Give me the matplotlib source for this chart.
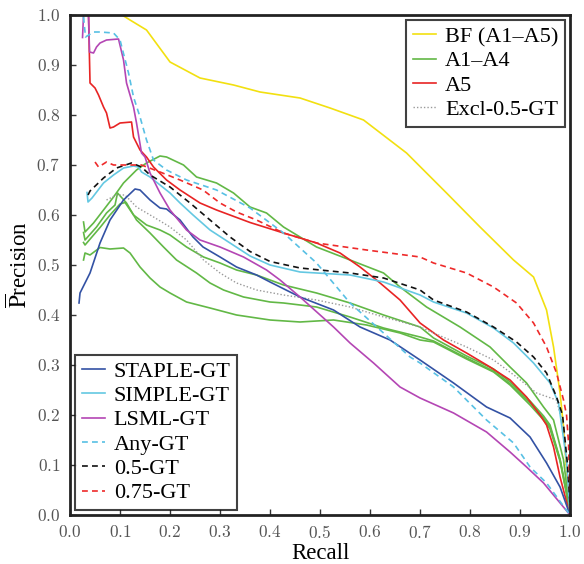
import numpy as np
import matplotlib.pyplot as plt

# precision-recall curves, values
bf_r = [0.02, 0.104, 0.12, 0.153, 0.2, 0.26, 0.327, 0.38, 0.46, 0.52, 0.587, 0.673, 0.753,
        0.82, 0.887, 0.927, 0.953, 0.967, 0.98, 0.987, 0.997, 1.0]
bf_p = [1.0, 1.0, 0.99, 0.97, 0.906, 0.874, 0.86, 0.846, 0.834, 0.814, 0.79, 0.724, 0.644,
        0.576, 0.51, 0.476, 0.41, 0.336, 0.244, 0.176, 0.03, 0.0]

a5_r = [0.037, 0.04, 0.05, 0.057, 0.067, 0.073, 0.08, 0.087, 0.1, 0.123, 0.127, 0.14, 0.153,
        0.167, 0.193, 0.22, 0.26, 0.293, 0.36, 0.427, 0.493, 0.54, 0.58, 0.613, 0.66, 0.7,
        0.747, 0.793, 0.84, 0.88, 0.913, 0.94, 0.953, 0.967, 0.98, 1.0]
a5_p = [1.0, 0.864, 0.854, 0.84, 0.816, 0.804, 0.774, 0.776, 0.784, 0.786, 0.756, 0.73, 0.716,
        0.696, 0.67, 0.65, 0.624, 0.61, 0.585, 0.564, 0.544, 0.524, 0.496, 0.47, 0.43, 0.384,
        0.35, 0.324, 0.296, 0.27, 0.236, 0.2, 0.18, 0.136, 0.076, 0.0]

g1_r = [0.027, 0.03, 0.047, 0.067, 0.087, 0.107, 0.133, 0.153, 0.18, 0.193, 0.227, 0.253,
        0.293, 0.327, 0.36, 0.393, 0.427, 0.46, 0.493, 0.56, 0.627, 0.66, 0.713, 0.78, 0.84,
        0.88, 0.913, 0.947, 0.967, 0.987, 1.0]
g1_p = [0.586, 0.566, 0.584, 0.61, 0.636, 0.664, 0.69, 0.704, 0.718, 0.716, 0.7, 0.676,
        0.664, 0.644, 0.616, 0.604, 0.576, 0.556, 0.536, 0.51, 0.484, 0.456, 0.416, 0.376,
        0.336, 0.296, 0.264, 0.216, 0.19, 0.11, 0.0]

g2_r = [0.027, 0.03, 0.053, 0.073, 0.09, 0.095, 0.113, 0.133, 0.16, 0.187, 0.213, 0.253, 0.28,
        0.307, 0.347, 0.4, 0.427, 0.493, 0.56, 0.627, 0.7, 0.727, 0.793, 0.847, 0.88, 0.92,
        0.947, 0.96, 0.98, 0.993, 1.0]
g2_p = [0.565, 0.55, 0.576, 0.604, 0.62, 0.644, 0.624, 0.59, 0.564, 0.536, 0.51, 0.484, 0.464,
        0.45, 0.436, 0.426, 0.424, 0.416, 0.396, 0.374, 0.356, 0.348, 0.314, 0.288, 0.262,
        0.224, 0.194, 0.176, 0.11, 0.044, 0.0]

g3_r = [0.027, 0.03, 0.06, 0.08, 0.1, 0.11, 0.127, 0.153, 0.18, 0.2, 0.233, 0.267, 0.3,
        0.333, 0.373, 0.427, 0.493, 0.56, 0.627, 0.7, 0.727, 0.793, 0.847, 0.88, 0.92, 0.947,
        0.96, 0.98, 0.993, 1.0]
g3_p = [0.545, 0.54, 0.575, 0.6, 0.622, 0.625, 0.6, 0.58, 0.57, 0.56, 0.536, 0.516, 0.504,
        0.49, 0.48, 0.46, 0.444, 0.424, 0.4, 0.376, 0.354, 0.318, 0.292, 0.266, 0.228, 0.198,
        0.18, 0.112, 0.046, 0.0]

g4_r = [0.027, 0.03, 0.04, 0.06, 0.08, 0.107, 0.12, 0.14, 0.16, 0.18, 0.2, 0.233, 0.28,
        0.333, 0.4, 0.46, 0.527, 0.593, 0.66, 0.7, 0.727, 0.793, 0.847, 0.88, 0.92, 0.947,
        0.96, 0.98, 0.993, 1.0]
g4_p = [0.51, 0.524, 0.52, 0.535, 0.532, 0.534, 0.524, 0.496, 0.474, 0.456, 0.444, 0.426,
        0.414, 0.4, 0.39, 0.386, 0.39, 0.38, 0.364, 0.35, 0.346, 0.312, 0.286, 0.26, 0.22,
        0.19, 0.172, 0.108, 0.042, 0.0]

excl_r = [0.073, 0.093, 0.11, 0.133, 0.167, 0.2, 0.233, 0.267, 0.3, 0.333, 0.373, 0.427, 0.493,
          0.56, 0.627, 0.7, 0.727, 0.793, 0.847, 0.893, 0.933, 0.973, 0.987, 1.0]
excl_p = [0.63, 0.64, 0.64, 0.616, 0.596, 0.576, 0.55, 0.51, 0.484, 0.464, 0.45, 0.44, 0.43,
          0.416, 0.396, 0.376, 0.364, 0.336, 0.31, 0.276, 0.244, 0.23, 0.176, 0.0]

staple_r = [0.018, 0.02, 0.04, 0.06, 0.08, 0.107, 0.13, 0.14, 0.16, 0.18, 0.193, 0.22, 0.246,
            0.266, 0.3, 0.333, 0.373, 0.4, 0.46, 0.527, 0.58, 0.64, 0.7, 0.767, 0.833, 0.88,
            0.92, 0.953, 0.98, 1.0]
staple_p = [0.424, 0.444, 0.484, 0.544, 0.59, 0.63, 0.652, 0.65, 0.63, 0.614, 0.612, 0.59,
            0.556, 0.536, 0.516, 0.496, 0.48, 0.466, 0.436, 0.41, 0.376, 0.35, 0.31, 0.264,
            0.216, 0.194, 0.156, 0.104, 0.056, 0.0]

simple_r = [0.034, 0.036, 0.044, 0.067, 0.087, 0.107, 0.127, 0.137, 0.143, 0.16, 0.18, 0.2,
            0.22, 0.246, 0.28, 0.32, 0.36, 0.4, 0.46, 0.56, 0.627, 0.7, 0.727, 0.793, 0.847,
            0.887, 0.927, 0.96, 0.977, 0.993, 1.0]
simple_p = [0.645, 0.626, 0.634, 0.664, 0.68, 0.694, 0.698, 0.696, 0.686, 0.676, 0.66, 0.644,
            0.624, 0.6, 0.57, 0.544, 0.518, 0.5, 0.486, 0.48, 0.466, 0.44, 0.426, 0.404, 0.374,
            0.344, 0.304, 0.264, 0.224, 0.11, 0.0]

lsml_r = [0.025, 0.027, 0.037, 0.039, 0.047, 0.053, 0.06, 0.073, 0.097, 0.107, 0.113, 0.127,
          0.133, 0.143, 0.15, 0.16, 0.18, 0.2, 0.233, 0.26, 0.3, 0.347, 0.393, 0.42, 0.46,
          0.527, 0.56, 0.607, 0.66, 0.7, 0.767, 0.833, 0.88, 0.913, 0.947, 1.0]
lsml_p = [0.955, 1.0, 1.0, 0.926, 0.924, 0.936, 0.944, 0.95, 0.952, 0.91, 0.864, 0.816, 0.784,
          0.724, 0.716, 0.684, 0.644, 0.61, 0.57, 0.55, 0.536, 0.516, 0.49, 0.47, 0.436,
          0.376, 0.344, 0.304, 0.256, 0.234, 0.204, 0.166, 0.126, 0.096, 0.064, 0.0]

any_r = [0.027, 0.031, 0.047, 0.06, 0.087, 0.1, 0.117, 0.127, 0.14, 0.153, 0.167, 0.193, 0.233,
         0.293, 0.36, 0.427, 0.493, 0.56, 0.627, 0.68, 0.7, 0.767, 0.833, 0.887, 0.92, 0.953,
         1.0]
any_p = [0.996, 0.956, 0.966, 0.966, 0.964, 0.95, 0.884, 0.836, 0.796, 0.75, 0.71, 0.69, 0.67,
         0.65, 0.614, 0.564, 0.504, 0.424, 0.364, 0.316, 0.304, 0.256, 0.19, 0.144, 0.096,
         0.064, 0.0]

gt05_r = [0.036, 0.04, 0.067, 0.093, 0.123, 0.143, 0.16, 0.2, 0.24, 0.28, 0.32, 0.36, 0.4,
          0.46, 0.56, 0.627, 0.7, 0.727, 0.793, 0.847, 0.893, 0.927, 0.953, 0.973, 0.985,
          0.995, 1.0]
gt05_p = [0.64, 0.648, 0.674, 0.694, 0.704, 0.696, 0.68, 0.656, 0.624, 0.59, 0.556, 0.527,
          0.507, 0.494, 0.484, 0.474, 0.45, 0.43, 0.406, 0.376, 0.346, 0.316, 0.284, 0.236,
          0.2, 0.1, 0.02]

gt075_r = [0.05, 0.057, 0.073, 0.087, 0.107, 0.143, 0.18, 0.22, 0.266, 0.3, 0.333, 0.373,
           0.427, 0.493, 0.593, 0.7, 0.727, 0.793, 0.847, 0.893, 0.927, 0.953, 0.973, 0.987,
           0.993, 0.997, 1.0]
gt075_p = [0.706, 0.696, 0.706, 0.7, 0.7, 0.7, 0.686, 0.67, 0.65, 0.624, 0.606, 0.59, 0.564,
           0.544, 0.53, 0.516, 0.504, 0.484, 0.456, 0.424, 0.384, 0.336, 0.284, 0.23, 0.2,
           0.144, 0.02]

ticks = [0.0, 0.1, 0.2, 0.3, 0.4, 0.5, 0.6, 0.7, 0.8, 0.9, 1.0]

plt.rcParams['font.family'] = ['Liberation Serif', 'DejaVu Serif']
plt.rcParams['mathtext.fontset'] = 'cm'

fig = plt.figure(figsize=(5.84, 5.64), dpi=100)
ax = fig.add_axes([0.1199, 0.0869, 0.8562, 0.8865])

green = '#62b846'
lw = 1.2
dash = (0, (3.5, 2.5))

ax.plot(bf_r, bf_p, color='#f2e010', lw=lw, label='BF (A1\u2013A5)')
ax.plot(g1_r, g1_p, color=green, lw=lw, label='A1\u2013A4')
ax.plot(g2_r, g2_p, color=green, lw=lw)
ax.plot(g3_r, g3_p, color=green, lw=lw)
ax.plot(g4_r, g4_p, color=green, lw=lw)
ax.plot(a5_r, a5_p, color='#e82424', lw=lw, label='A5')
ax.plot(excl_r, excl_p, color='#999999', lw=1.0, ls=(0, (1, 1.5)), label='Excl-0.5-GT')

h1, = ax.plot(staple_r, staple_p, color='#3352a4', lw=lw, label='STAPLE-GT')
h2, = ax.plot(simple_r, simple_p, color='#64c8e2', lw=lw, label='SIMPLE-GT')
h3, = ax.plot(lsml_r, lsml_p, color='#b446b4', lw=lw, label='LSML-GT')
h4, = ax.plot(any_r, any_p, color='#58c0e4', lw=lw, ls=dash, label='Any-GT')
h5, = ax.plot(gt05_r, gt05_p, color='#111111', lw=lw, ls=dash, label='0.5-GT')
h6, = ax.plot(gt075_r, gt075_p, color='#ee2a2a', lw=lw, ls=dash, label='0.75-GT')

ax.set_xlim(0, 1)
ax.set_ylim(0, 1)
ax.set_xticks(ticks)
ax.set_yticks(ticks)
ax.set_xticklabels(['$%.1f$' % t for t in ticks])
ax.set_yticklabels(['$%.1f$' % t for t in ticks])
ax.tick_params(direction='in', length=4, width=1, labelsize=12.5, labelcolor='#555555',
               color='#333333', pad=7)
for s in ax.spines.values():
    s.set_linewidth(2)
    s.set_color('#222222')

ax.set_xlabel('Recall', fontsize=16.5, labelpad=1)
ax.set_ylabel(r'$\overline{\mathrm{P}}$recision', fontsize=16.5, labelpad=3,
              math_fontfamily='stix')

leg_kw = dict(fontsize=16, frameon=True, fancybox=False, edgecolor='#111111',
              handlelength=1.05, handletextpad=0.4, borderpad=0.3, labelspacing=0.17,
              borderaxespad=0.22)

handles_top = ax.get_legend_handles_labels()[0][:4]
leg1 = ax.legend(handles=handles_top, loc='upper right', **leg_kw)
leg1.get_frame().set_linewidth(1.5)
ax.add_artist(leg1)

leg2 = ax.legend(handles=[h1, h2, h3, h4, h5, h6], loc='lower left', **leg_kw)
leg2.get_frame().set_linewidth(1.5)

fig.savefig('out.png', dpi=100)
